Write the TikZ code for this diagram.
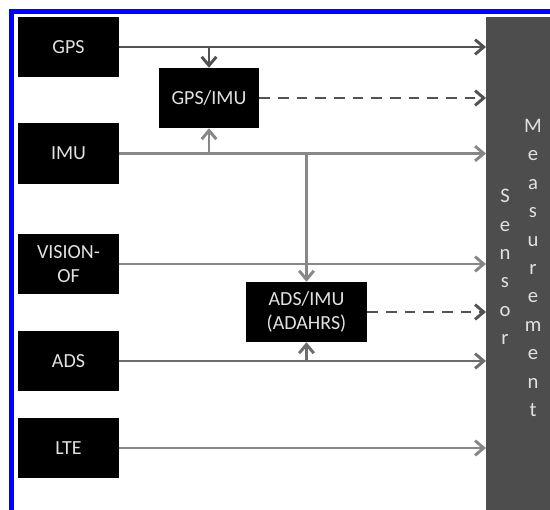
\documentclass[tikz,border=0pt]{standalone}
\usepackage{fontspec}
\setmainfont{Carlito}
\usetikzlibrary{arrows.meta}
\definecolor{rahmenblau}{RGB}{0,0,255}
\definecolor{balkengrau}{RGB}{77,77,77}
\definecolor{dunkelgrau}{RGB}{82,82,82}
\definecolor{mittelgrau}{RGB}{110,110,110}
\definecolor{hellgrau}{RGB}{135,135,135}
\definecolor{schrift}{RGB}{225,225,225}

\tikzset{
    quelle/.style={fill=black, text=schrift, minimum width=75.75pt, minimum height=45pt,
        inner sep=0pt, align=center, font=\fontsize{15}{18.5}\selectfont},
    signal/.style={line width=2.2pt, -{Straight Barb[length=6.5pt,width=11pt]}},
    gestrichelt/.style={signal, dunkelgrau, dash pattern=on 8pt off 6pt},
    balkenschrift/.style={text=schrift, align=center, inner sep=0pt,
        font=\fontsize{15.5}{21.3}\selectfont},
}

\begin{document}
\begin{tikzpicture}[x=0.75pt, y=-0.75pt]
        \clip (0,0) rectangle (550,510);
        \fill[white] (0,0) rectangle (550,510);

        % Rahmen
        \draw[rahmenblau, line width=3.75pt] (11.5,600) -- (11.5,11.5) -- (600,11.5);

        % Messbalken
        \node[fill=balkengrau, anchor=north west, inner sep=0pt,
            minimum width=52.5pt, minimum height=375pt] (balken) at (486,17) {};
        \node[balkenschrift] (sensor) at (505,267) {S\\e\\n\\s\\o\\r};
        \node[balkenschrift] (messung) at (533,268) {M\\e\\a\\s\\u\\r\\e\\m\\e\\n\\t};

        % Sensoren
        \node[quelle] (gps) at (68.5,47) {GPS};
        \node[quelle] (imu) at (68.5,153.5) {IMU};
        \node[quelle] (vision) at (68.5,264) {VISION-\\OF};
        \node[quelle] (ads) at (68.5,361) {ADS};
        \node[quelle] (lte) at (68.5,448) {LTE};

        % Fusion
        \node[quelle, minimum width=75pt] (gpsimu) at (209,98) {GPS/IMU};
        \node[quelle, minimum width=90.75pt] (adsimu) at (306.5,312) {ADS/IMU\\(ADAHRS)};

        % Linien
        \draw[signal, dunkelgrau] (gps) -- (gps -| balken.west);
        \draw[signal, hellgrau] (imu) -- (imu -| balken.west);
        \draw[signal, hellgrau] (vision) -- (vision -| balken.west);
        \draw[signal, mittelgrau] (ads) -- (ads -| balken.west);
        \draw[signal, hellgrau] (lte) -- (lte -| balken.west);

        % Abzweigungen
        \draw[signal, dunkelgrau] (gpsimu.north |- gps) -- (gpsimu.north);
        \draw[signal, hellgrau] (gpsimu.south |- imu) -- (gpsimu.south);
        \draw[signal, hellgrau] (adsimu.north |- imu) -- (adsimu.north);
        \draw[signal, mittelgrau] (adsimu.south |- ads) -- (adsimu.south);

        % Gestrichelte Linien
        \draw[gestrichelt] (gpsimu) -- (gpsimu -| balken.west);
        \draw[gestrichelt] (adsimu) -- (adsimu -| balken.west);
\end{tikzpicture}
\end{document}
